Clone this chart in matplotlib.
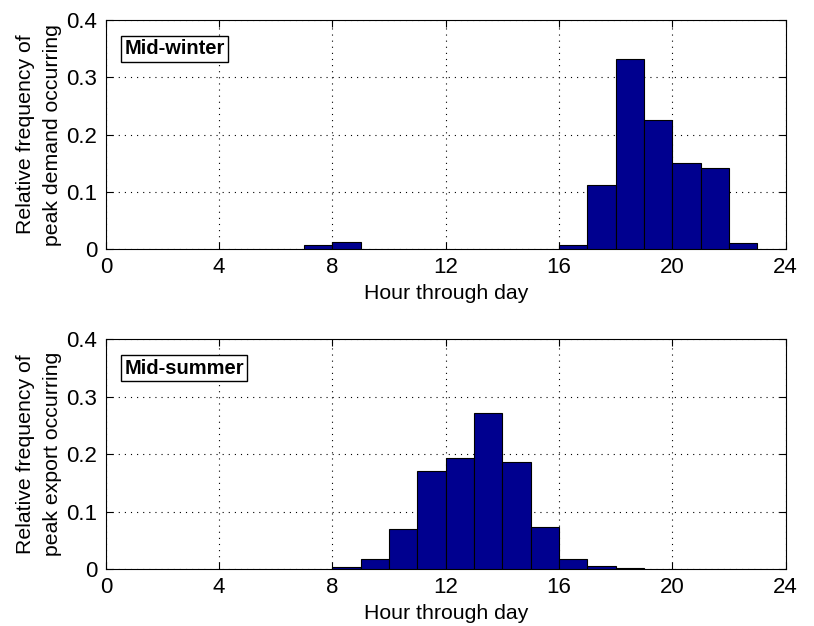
import numpy as np
import matplotlib.pyplot as plt

plt.rcParams['font.family'] = ['Liberation Sans', 'DejaVu Sans']

# hour bins (left edges) and relative frequencies
winter_hours = [7, 8, 16, 17, 18, 19, 20, 21, 22]
winter_freq = [0.0075, 0.0125, 0.008, 0.112, 0.332, 0.226, 0.151, 0.142, 0.010]

summer_hours = [8, 9, 10, 11, 12, 13, 14, 15, 16, 17, 18]
summer_freq = [0.004, 0.018, 0.070, 0.171, 0.193, 0.271, 0.187, 0.073, 0.018, 0.005, 0.002]

x_ticks = [0, 4, 8, 12, 16, 20, 24]
y_ticks = [0, 0.1, 0.2, 0.3, 0.4]
y_tick_labels = ['0', '0.1', '0.2', '0.3', '0.4']

panels = [
    (winter_hours, winter_freq, 'Mid-winter', 'Relative frequency of\npeak demand occurring'),
    (summer_hours, summer_freq, 'Mid-summer', 'Relative frequency of\npeak export occurring'),
]

fig = plt.figure(figsize=(8.14, 6.26), dpi=100)
positions = [[0.130, 0.602, 0.835, 0.366], [0.130, 0.091, 0.835, 0.367]]

for pos, (hours, freq, tag, ylabel) in zip(positions, panels):
    ax = fig.add_axes(pos)
    ax.bar(hours, freq, width=1.0, align='edge', color='#00008F',
           edgecolor='black', linewidth=0.8, zorder=3)
    ax.set_xlim(0, 24)
    ax.set_ylim(0, 0.4)
    ax.set_xticks(x_ticks)
    ax.set_yticks(y_ticks)
    ax.set_yticklabels(y_tick_labels)
    ax.tick_params(direction='in', top=True, right=True, labelsize=16, length=5, pad=6)
    ax.grid(True, linestyle=(0, (1, 4.5)), color='black', linewidth=0.8, zorder=0)
    ax.set_xlabel('Hour through day', fontsize=15.3, labelpad=4)
    ax.set_ylabel(ylabel, fontsize=15.3, labelpad=3, linespacing=1.55)
    ax.text(0.027, 0.875, tag, transform=ax.transAxes, fontsize=14.5, fontweight='bold',
            va='center', ha='left',
            bbox=dict(boxstyle='square,pad=0.18', facecolor='white', edgecolor='black', linewidth=1))
    for s in ax.spines.values():
        s.set_linewidth(0.8)

fig.savefig('out.png', dpi=100)
